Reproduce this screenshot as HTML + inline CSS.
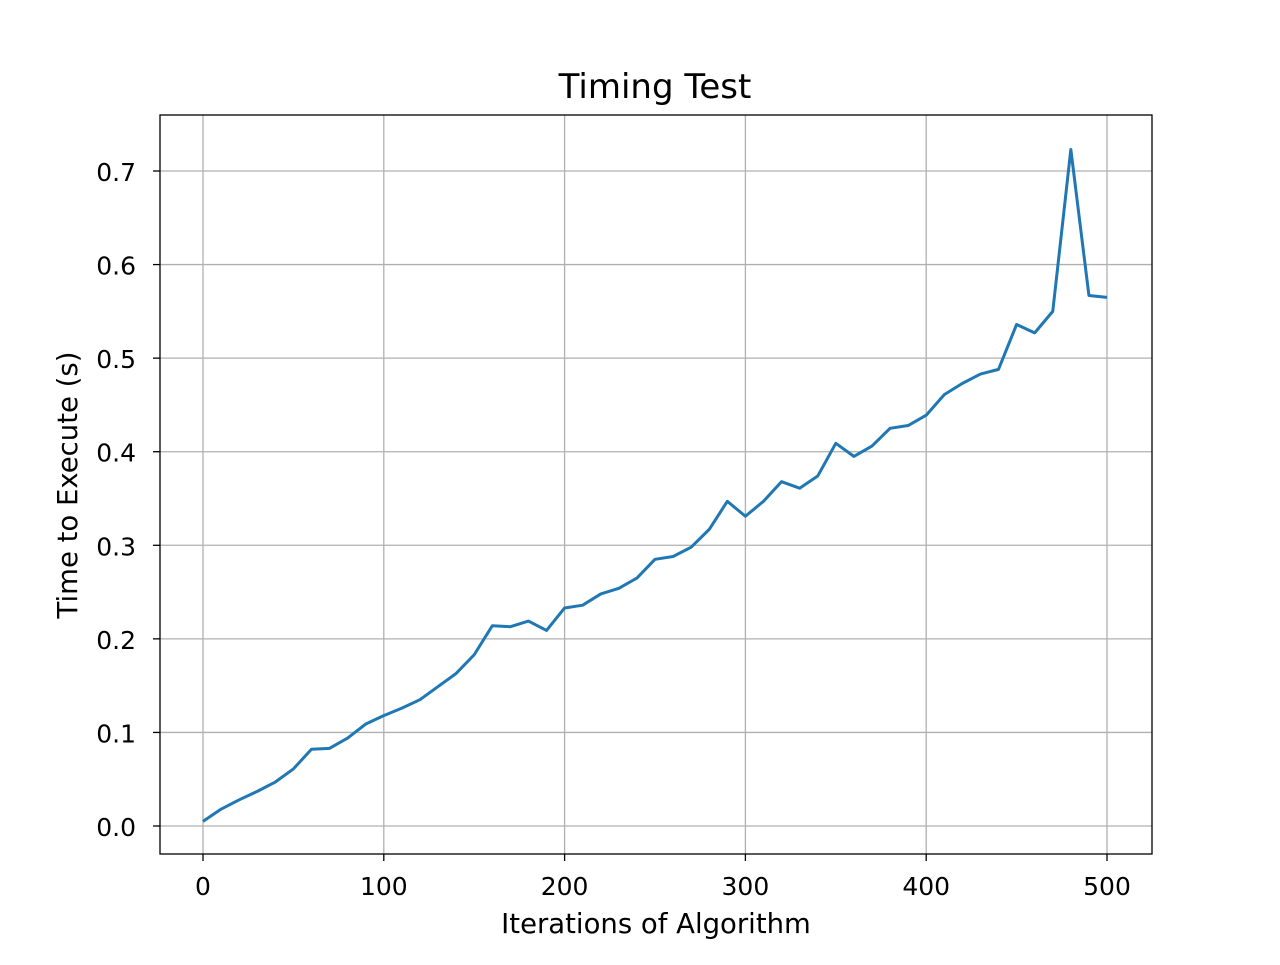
<!DOCTYPE html>
<html><head><meta charset="utf-8">
<style>
html,body{margin:0;padding:0;background:#fff;}
svg text{font-family:"DejaVu Sans","Liberation Sans",sans-serif;fill:#000;}
</style></head>
<body>
<svg id="chart" width="1280" height="960" xmlns="http://www.w3.org/2000/svg">
<rect width="1280" height="960" fill="#fff"/>
<g id="grid"></g>
<g id="ticks"></g>
<text x="655" y="98" text-anchor="middle" font-size="34">Timing Test</text>
<text x="656" y="933" text-anchor="middle" font-size="27.5">Iterations of Algorithm</text>
<text transform="translate(77,485) rotate(-90)" text-anchor="middle" font-size="27.5">Time to Execute (s)</text>
<polyline id="line" fill="none" stroke="#1f77b4" stroke-width="3" stroke-linejoin="round"/>
<rect x="160" y="115" width="992" height="739" fill="none" stroke="#000" stroke-width="1.3"/>
</svg>
<script>
const iterations = [0,10,20,30,40,50,60,70,80,90,100,110,120,130,140,150,160,170,180,190,200,210,220,230,240,250,260,270,280,290,300,310,320,330,340,350,360,370,380,390,400,410,420,430,440,450,460,470,480,490,500];
const times = [0.005,0.018,0.028,0.037,0.047,0.061,0.082,0.083,0.094,0.109,0.118,0.126,0.135,0.149,0.163,0.183,0.214,0.213,0.219,0.209,0.233,0.236,0.248,0.254,0.265,0.285,0.288,0.298,0.317,0.347,0.331,0.347,0.368,0.361,0.374,0.409,0.395,0.406,0.425,0.428,0.439,0.461,0.473,0.483,0.488,0.536,0.527,0.550,0.723,0.567,0.565];
const xTicks = [0,100,200,300,400,500];
const yTicks = [0.0,0.1,0.2,0.3,0.4,0.5,0.6,0.7];
const X = v => 203 + v*(1107-203)/500;
const Y = v => 826 - v*(826-171)/0.7;
const NS="http://www.w3.org/2000/svg";
const grid=document.getElementById('grid'), ticks=document.getElementById('ticks');
function mk(tag,attrs,parent){const e=document.createElementNS(NS,tag);for(const k in attrs)e.setAttribute(k,attrs[k]);parent.appendChild(e);return e;}
xTicks.forEach(t=>{
  const x=X(t);
  const g=mk('line',{x1:x,x2:x,y1:115,y2:854,stroke:'#b0b0b0','stroke-width':1.3},grid);
  
  
  const tk=mk('line',{x1:x,x2:x,y1:854,y2:861,stroke:'#000','stroke-width':1.3},ticks);
  
  
  const tx=mk('text',{x:x,y:895,'text-anchor':'middle','font-size':25},ticks);
  tx.textContent=t;
  
  
});
yTicks.forEach(t=>{
  const y=Y(t);
  const g=mk('line',{x1:160,x2:1152,y1:y,y2:y,stroke:'#b0b0b0','stroke-width':1.3},grid);
  
  
  const tk=mk('line',{x1:153,x2:160,y1:y,y2:y,stroke:'#000','stroke-width':1.3},ticks);
  
  
  const tx=mk('text',{x:136,y:y+10,'text-anchor':'end','font-size':25},ticks);
  tx.textContent=t.toFixed(1);
  
  
});
document.getElementById('line').setAttribute('points',iterations.map((v,i)=>X(v)+','+Y(times[i])).join(' '));
</script>
</body></html>
